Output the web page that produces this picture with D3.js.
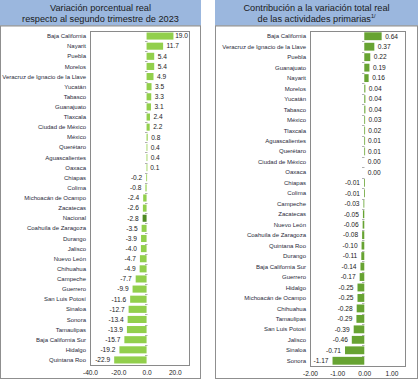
<!DOCTYPE html>
<html><head><meta charset="utf-8">
<script src="https://cdn.jsdelivr.net/npm/d3@7"></script>
<style>
html,body{margin:0;padding:0;background:#fff;}
svg{display:block;font-family:"Liberation Sans",Arial,sans-serif;}
</style></head>
<body>
<svg id="c" width="418" height="380"></svg>
<script>
const leftTitle = ["Variación porcentual real", "respecto al segundo trimestre de 2023"];
const leftCategories = ["Baja California","Nayarit","Puebla","Morelos","Veracruz de Ignacio de la Llave","Yucatán","Tabasco","Guanajuato","Tlaxcala","Ciudad de México","México","Querétaro","Aguascalientes","Oaxaca","Chiapas","Colima","Michoacán de Ocampo","Zacatecas","Nacional","Coahuila de Zaragoza","Durango","Jalisco","Nuevo León","Chihuahua","Campeche","Guerrero","San Luis Potosí","Sinaloa","Sonora","Tamaulipas","Baja California Sur","Hidalgo","Quintana Roo"];
const leftValues = [19.0,11.7,5.4,5.4,4.9,3.5,3.3,3.1,2.4,2.2,0.8,0.4,0.4,0.1,-0.2,-0.8,-2.4,-2.6,-2.8,-3.5,-3.9,-4.0,-4.7,-4.9,-7.7,-9.9,-11.6,-12.7,-13.4,-13.9,-15.7,-19.2,-22.9];
const leftTicks = [-40, -20, 0, 20];
const leftDomain = [-40, 30];

const rightTitle = ["Contribución a la variación total real", "de las actividades primarias"];
const rightCategories = ["Baja California","Veracruz de Ignacio de la Llave","Puebla","Guanajuato","Nayarit","Morelos","Yucatán","Tabasco","México","Tlaxcala","Aguascalientes","Querétaro","Ciudad de México","Oaxaca","Chiapas","Colima","Campeche","Zacatecas","Nuevo León","Coahuila de Zaragoza","Quintana Roo","Durango","Baja California Sur","Guerrero","Hidalgo","Michoacán de Ocampo","Chihuahua","Tamaulipas","San Luis Potosí","Jalisco","Sinaloa","Sonora"];
const rightValues = [0.64,0.37,0.22,0.19,0.16,0.04,0.04,0.04,0.03,0.02,0.01,0.01,0.00,0.00,-0.01,-0.01,-0.03,-0.05,-0.06,-0.08,-0.10,-0.11,-0.14,-0.17,-0.25,-0.25,-0.28,-0.29,-0.39,-0.46,-0.71,-1.17];
const rightTicks = [-2, -1, 0, 1];
const rightDomain = [-2, 1.5];

const svg = d3.select("#c");

function panel(o){
  const g = svg.append("g");
  g.append("rect").attr("x", o.px).attr("y", 0).attr("width", o.pw).attr("height", 25).attr("fill", "#9bb7de");
  g.append("line").attr("x1", o.px).attr("x2", o.px + o.pw).attr("y1", 25.5).attr("y2", 25.5).attr("stroke", "#a9b4c2");
  g.append("rect").attr("x", o.px + 0.5).attr("y", 26).attr("width", o.pw - 1).attr("height", 352.5)
    .attr("fill", "#fff").attr("stroke", "#8f8f8f").attr("stroke-width", 1);
  const cx = o.px + o.pw / 2;
  g.append("text").attr("x", cx).attr("y", 11).attr("text-anchor", "middle")
    .attr("font-size", 9.2).attr("fill", "#1a1a1a").text(o.title[0]);
  const t2 = g.append("text").attr("x", cx).attr("y", 21.5).attr("text-anchor", "middle")
    .attr("font-size", 9.2).attr("fill", "#1a1a1a").text(o.title[1]);
  if (o.sup) t2.append("tspan").attr("font-size", 5.5).attr("dy", -3.5).text(o.sup);

  const x = d3.scaleLinear().domain(o.domain).range([o.bx0, o.bx1]);
  const y = d3.scaleBand().domain(o.cats).range([o.by0, o.by1]).paddingInner(o.pad).paddingOuter(o.pad / 2);
  const step = y.step();

  g.append("rect").attr("x", o.bx0 + 0.5).attr("y", o.by0 + 0.5).attr("width", o.bx1 - o.bx0).attr("height", o.by1 - o.by0)
    .attr("fill", "none").attr("stroke", "#8a8a8a").attr("stroke-width", 1);

  const x0 = Math.round(x(0)) + 0.5;
  g.append("g").selectAll("line").data(d3.range(1, o.cats.length)).join("line")
    .attr("x1", x0 - 2.5).attr("x2", x0).attr("y1", i => Math.round(o.by0 + i * step) + 0.5).attr("y2", i => Math.round(o.by0 + i * step) + 0.5)
    .attr("stroke", "#9a9a9a").attr("stroke-width", 0.8);

  g.append("g").selectAll("rect").data(o.vals).join("rect")
    .attr("x", d => x(Math.min(0, d)))
    .attr("width", d => Math.max(Math.abs(x(d) - x(0)), d === 0 ? 0 : 0.8))
    .attr("y", (d, i) => y(o.cats[i]))
    .attr("height", y.bandwidth())
    .attr("fill", (d, i) => o.cats[i] === "Nacional" ? o.dark : o.color);

  g.append("g").selectAll("text").data(o.vals).join("text")
    .attr("x", d => d >= 0 ? x(d) + 3.5 : x(d) - 4)
    .attr("y", (d, i) => y(o.cats[i]) + y.bandwidth() / 2)
    .attr("dy", "0.35em")
    .attr("text-anchor", d => d >= 0 ? "start" : "end")
    .attr("font-size", 6.6).attr("fill", "#1a1a1a")
    .text(d => d3.format(o.fmt)(d).replace("−", "-"))
    .each(function(d){
      if (d >= 0) {
        const w = this.getComputedTextLength();
        const xs = +this.getAttribute("x");
        if (xs + w > o.bx1 - 1) this.setAttribute("x", Math.max(x(d) + 0.5, o.bx1 - 1 - w));
      }
    });

  g.append("g").selectAll("text").data(o.cats).join("text")
    .attr("x", o.bx0 - 4)
    .attr("y", d => y(d) + y.bandwidth() / 2)
    .attr("dy", "0.35em")
    .attr("text-anchor", "end")
    .attr("font-size", 6).attr("fill", "#1f2a3a")
    .text(d => d);

  const ax = d3.axisBottom(x).tickValues(o.ticks).tickSize(0).tickPadding(4)
    .tickFormat(d => d3.format(o.tfmt)(d).replace("−", "-"));
  const axg = g.append("g").attr("transform", `translate(0,${o.by1 + 1})`).call(ax);
  axg.select(".domain").remove();
  axg.selectAll("text").attr("font-size", 6.6).attr("fill", "#1a1a1a").attr("font-family", "Liberation Sans, Arial, sans-serif");
}

panel({px:0, pw:201, title:leftTitle, cats:leftCategories, vals:leftValues, domain:leftDomain, ticks:leftTicks,
  bx0:90, bx1:189, by0:31, by1:365, pad:0.3, color:"#92cf4c", dark:"#4e8a22", fmt:".1f", tfmt:".1f"});
panel({px:215, pw:203, title:rightTitle, sup:"1/", cats:rightCategories, vals:rightValues, domain:rightDomain, ticks:rightTicks,
  bx0:310, bx1:405, by0:31, by1:366, pad:0.25, color:"#67a332", dark:"#4e8a22", fmt:".2f", tfmt:".2f"});
</script>
</body></html>
